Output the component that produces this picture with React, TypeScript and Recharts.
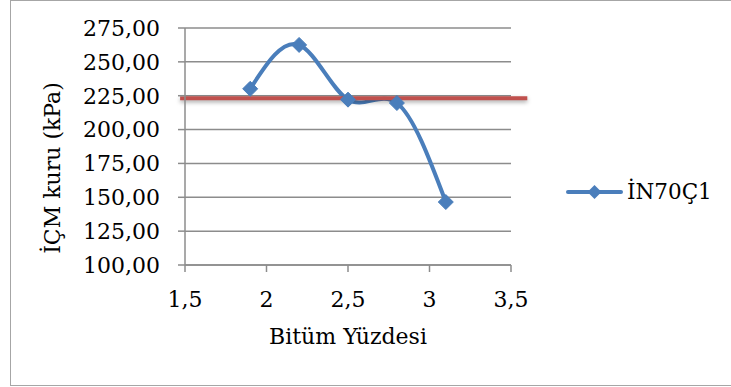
import {
  ComposedChart,
  Line,
  XAxis,
  YAxis,
  CartesianGrid,
  ReferenceLine,
} from 'recharts';

// Bitüm yüzdesi vs İÇM kuru values for İN70Ç1
const bitumPercent = [1.9, 2.2, 2.5, 2.8, 3.1];
const icmValues = [230.1, 262.5, 222.1, 219.6, 146.5];
const xTicks = [1.5, 2, 2.5, 3, 3.5];
const yTicks = [100, 125, 150, 175, 200, 225, 250, 275];
const limitValue = 223.1;
const seriesName = 'İN70Ç1';

const data = bitumPercent.map((x, i) => ({ x, v: icmValues[i] }));

const BLUE = '#4A7EBB';
const RED = '#C0504D';
const FONT = '"DejaVu Serif", serif';

const Diamond = (props: any) => {
  const { cx, cy } = props;
  if (cx == null || cy == null) return null;
  const r = 7.5;
  return (
    <path
      d={`M${cx},${cy - r} L${cx + r},${cy} L${cx},${cy + r} L${cx - r},${cy} Z`}
      fill={BLUE}
      stroke={BLUE}
      strokeWidth={1}
    />
  );
};

// series key drawn beside the plot
const SeriesKey = () => (
  <svg
    width={170}
    height={30}
    style={{ position: 'absolute', left: 563, top: 177, overflow: 'visible' }}
  >
    <line x1={5} y1={15} x2={58} y2={15} stroke={BLUE} strokeWidth={4} strokeLinecap="round" />
    <path d="M31.5,8 L38.5,15 L31.5,22 L24.5,15 Z" fill={BLUE} />
    <text x={64} y={22} fontFamily={FONT} fontSize={21.5} fill="#000">
      {seriesName}
    </text>
  </svg>
);

export default function App() {
  const comma = (v: number) => String(v).replace('.', ',');
  return (
    <div style={{ position: 'absolute', left: 0, top: 0, width: 731, height: 387, background: '#fff' }}>
      <style>{`.red-limit line { filter: drop-shadow(0 2px 2px rgba(0,0,0,0.35)); }`}</style>
      <div
        style={{
          position: 'absolute',
          left: 10,
          top: 0,
          width: 740,
          height: 386,
          border: '1px solid #a6a6a6',
          boxSizing: 'border-box',
        }}
      />
      <ComposedChart
        width={731}
        height={387}
        data={data}
        margin={{ top: 28, right: 220, bottom: 0, left: 0 }}
        style={{ position: 'absolute', left: 0, top: 0 }}
      >
        <CartesianGrid vertical={false} stroke="#8c8c8c" strokeWidth={1.5} />
        <XAxis
          dataKey="x"
          type="number"
          domain={[1.5, 3.5]}
          ticks={xTicks}
          tickFormatter={comma}
          stroke="#8c8c8c"
          strokeWidth={1.5}
          tickSize={7}
          tickMargin={19}
          height={122}
          tick={{ fill: '#000', fontFamily: FONT, fontSize: 22 }}
          label={{
            value: 'Bitüm Yüzdesi',
            position: 'insideTop',
            offset: 63,
            fill: '#000',
            fontFamily: FONT,
            fontSize: 22,
          }}
        />
        <YAxis
          type="number"
          domain={[100, 275]}
          ticks={yTicks}
          tickFormatter={(v: number) => v.toFixed(2).replace('.', ',')}
          stroke="#8c8c8c"
          strokeWidth={1.5}
          tickSize={7}
          tickMargin={18}
          width={185}
          tick={{ fill: '#000', fontFamily: FONT, fontSize: 22 }}
          label={{
            content: () => (
              <text
                x={60}
                y={168}
                transform="rotate(-90 60 168)"
                textAnchor="middle"
                fontFamily={FONT}
                fontSize={22}
                fill="#000"
              >
                İÇM kuru (kPa)
              </text>
            ),
          }}
        />
        <Line
          type="natural"
          dataKey="v"
          name={seriesName}
          stroke={BLUE}
          strokeWidth={4}
          dot={<Diamond />}
          activeDot={false}
          isAnimationActive={false}
        />
        <ReferenceLine
          className="red-limit"
          segment={[
            { x: 1.47, y: limitValue },
            { x: 3.6, y: limitValue },
          ]}
          stroke={RED}
          strokeWidth={4}
          ifOverflow="visible"
        />
      </ComposedChart>
      <SeriesKey />
    </div>
  );
}
